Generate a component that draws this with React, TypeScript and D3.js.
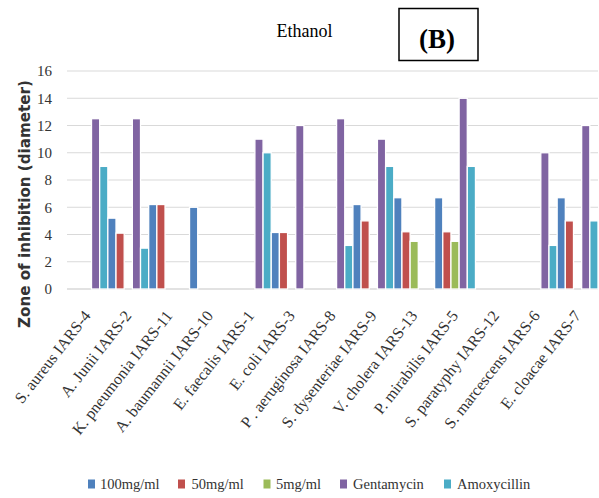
import React from "react";
import * as d3 from "d3";

const categories = [
  "S. aureus IARS-4",
  "A. Junii IARS-2",
  "K. pneumonia IARS-11",
  "A. baumannii IARS-10",
  "E. faecalis IARS-1",
  "E. coli IARS-3",
  "P . aeruginosa IARS-8",
  "S. dysenteriae IARS-9",
  "V. cholera IARS-13",
  "P. mirabilis IARS-5",
  "S. paratyphy IARS-12",
  "S. marcescens IARS-6",
  "E. cloacae IARS-7",
];

const seriesNames = ["100mg/ml", "50mg/ml", "5mg/ml", "Gentamycin", "Amoxycillin"];
const seriesColors = ["#4F81BD", "#C0504D", "#9BBB59", "#8064A2", "#4BACC6"];

const v100 = [0, 5.2, 6.2, 6, 0, 4.15, 0, 6.2, 6.7, 6.7, 0, 0, 6.7];
const v50 = [0, 4.1, 6.2, 0, 0, 4.15, 0, 5, 4.2, 4.2, 0, 0, 5];
const v5 = [0, 0, 0, 0, 0, 0, 0, 0, 3.5, 3.5, 0, 0, 0];
const gentamycin = [12.5, 12.5, 0, 0, 11, 12, 12.5, 11, 0, 14, 0, 10, 12];
const amoxycillin = [9, 3, 0, 0, 10, 0, 3.2, 9, 0, 9, 0, 3.2, 5];

const yTicks = [0, 2, 4, 6, 8, 10, 12, 14, 16];

const W = 599;
const H = 498;
const left = 67;
const right = 598;
const top = 71;
const bottom = 289;

export default function App() {
  const values = [v100, v50, v5, gentamycin, amoxycillin];
  const x = d3.scaleBand<string>().domain(categories).range([left, right]).paddingInner(0).paddingOuter(0);
  const xi = d3.scaleBand<string>().domain(seriesNames).range([0, x.bandwidth()]).padding(0);
  const y = d3.scaleLinear().domain([0, 16]).range([bottom, top]);

  const serif = "'Liberation Serif', 'Times New Roman', serif";

  const legendItems = [
    { sx: 88, tx: 100 },
    { sx: 178, tx: 191.5 },
    { sx: 263.5, tx: 276 },
    { sx: 340, tx: 353 },
    { sx: 444, tx: 457 },
  ];

  return (
    <svg width={W} height={H} style={{ position: "absolute", left: 0, top: 0, background: "#fff" }}>
      <rect x={0} y={0} width={W} height={H} fill="#fff" />
      {yTicks.map((t) => (
        <line
          key={t}
          x1={left}
          x2={right}
          y1={y(t)}
          y2={y(t)}
          stroke="#d9d9d9"
          strokeWidth={t === 0 ? 1.6 : 1}
        />
      ))}
      {yTicks.map((t) => (
        <text
          key={"l" + t}
          x={52}
          y={y(t)}
          dy="0.35em"
          textAnchor="end"
          fontFamily={serif}
          fontSize={15}
          fill="#333"
        >
          {t}
        </text>
      ))}
      {categories.map((c, ci) => (
        <g key={c} transform={`translate(${x(c)},0)`}>
          {seriesNames.map((s, si) => {
            const v = values[si][ci];
            if (!v) return null;
            return (
              <rect
                key={s}
                x={xi(s)}
                y={y(v)}
                width={xi.bandwidth()}
                height={y(0) - y(v)}
                fill={seriesColors[si]}
                stroke="#ffffff"
                strokeWidth={1.3}
              />
            );
          })}
        </g>
      ))}
      {categories.map((c) => {
        const cx = (x(c) as number) + x.bandwidth() / 2;
        return (
          <text
            key={"x" + c}
            transform={`translate(${cx + 4},${bottom + 27}) rotate(-52)`}
            textAnchor="end"
            fontFamily={serif}
            fontSize={16}
            fill="#333"
          >
            {c}
          </text>
        );
      })}
      <text
        transform={`translate(30,204) rotate(-90)`}
        textAnchor="middle"
        fontFamily="'DejaVu Sans', Verdana, sans-serif"
        fontSize={15}
        fontWeight="bold"
        fill="#333"
        textLength={248}
        lengthAdjust="spacingAndGlyphs"
      >
        Zone of inhibition (diameter)
      </text>
      <text x={304.5} y={37} textAnchor="middle" fontFamily={serif} fontSize={18} fill="#000">
        Ethanol
      </text>
      <rect x={399} y={8.5} width={79} height={52} fill="none" stroke="#000" strokeWidth={1.5} />
      <text x={437} y={48} textAnchor="middle" fontFamily={serif} fontSize={27} fontWeight="bold" fill="#000">
        (B)
      </text>
      {seriesNames.map((s, i) => (
        <g key={"lg" + s}>
          <rect x={legendItems[i].sx} y={479.5} width={7} height={9} fill={seriesColors[i]} />
          <text x={legendItems[i].tx} y={484} dy="0.35em" fontFamily={serif} fontSize={14.5} fill="#333">
            {s}
          </text>
        </g>
      ))}
    </svg>
  );
}
